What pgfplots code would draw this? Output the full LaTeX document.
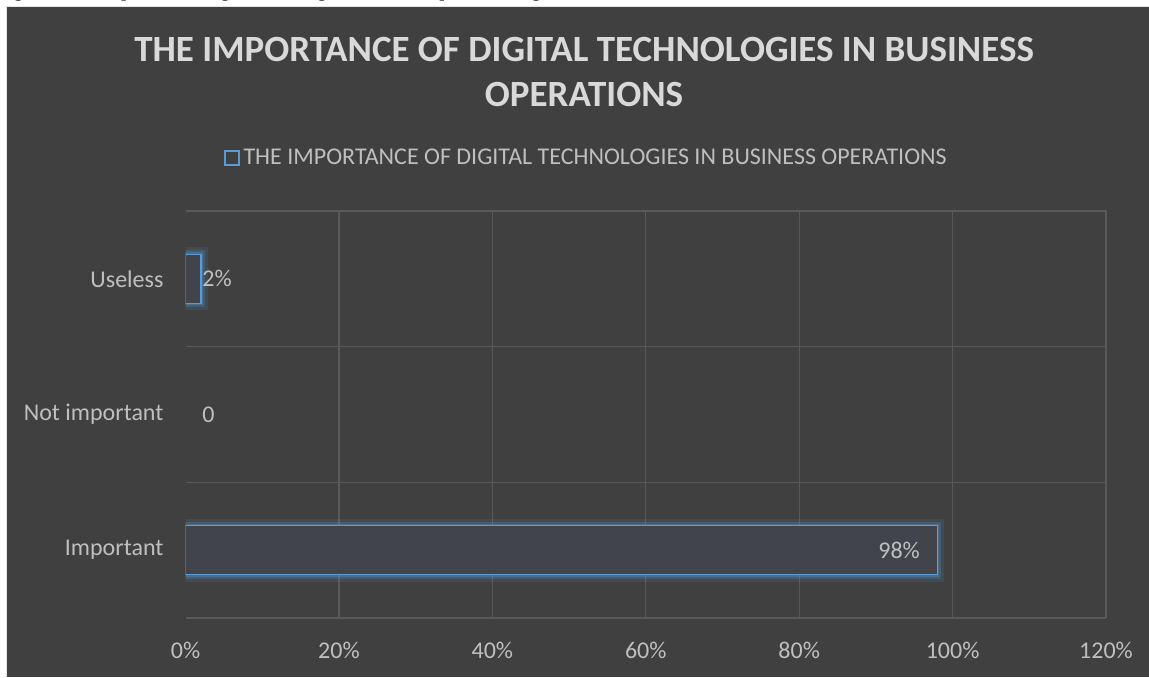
\documentclass[border=0pt]{standalone}
\usepackage{pgfplots}
\pgfplotsset{compat=1.18}
\usepackage{fontspec}
\setmainfont{Carlito}
\newfontfamily\capfont{Liberation Serif}
\definecolor{bg}{HTML}{404040}
\definecolor{gridc}{HTML}{595959}
\definecolor{lbl}{HTML}{BFBFBF}
\definecolor{ttl}{HTML}{D9D9D9}
\definecolor{barblue}{HTML}{5B9BD5}
\definecolor{barfill}{HTML}{41454B}
\newcommand\lblfont{\fontsize{12}{14.4}\selectfont}

\begin{document}
\begin{tikzpicture}
% page, 1 px = 0.5pt
\begin{scope}[x=0.5pt,y=-0.5pt]
  \fill[white] (0,0) rectangle (1149,677);
  \begin{scope}
    \clip (0,0) rectangle (1149,6);
    \node[anchor=base west, inner sep=0pt, text=black,
      font=\capfont\bfseries\fontsize{8.4}{10}\selectfont] at (-1,-2.5)
      {Figure 4: The importance of digital technologies in business operations, Nigeria};
  \end{scope}
  \fill[bg] (6,6) rectangle (1149,677);
  \draw[ttl!70!white, line width=0.6pt] (6.5,677) -- (6.5,6.5) -- (1149,6.5);
  \coordinate (org) at (185.5,618);
\end{scope}

\begin{axis}[
    at={(org)}, anchor=south west,
    scale only axis, width=460.25pt, height=203.5pt,
    xmin=0, xmax=120, ymin=-0.5, ymax=2.5,
    axis line style={draw=none},
    xtick={0,20,...,120},
    xticklabel={\pgfmathprintnumber{\tick}\%},
    minor xtick={20,40,...,120},
    ytick={0,1,2},
    yticklabels={Important,Not important,Useless},
    minor ytick={-0.5,0.5,1.5,2.5},
    xmajorgrids=false, xminorgrids=true, ymajorgrids=false, yminorgrids=true,
    minor grid style={gridc, line width=0.6pt},
    major tick length=0pt, minor tick length=0pt,
    tick label style={font=\lblfont, text=lbl},
    /pgf/number format/assume math mode=true,
    xticklabel style={yshift=-8.5pt},
    yticklabel style={xshift=-7.5pt},
    title={THE IMPORTANCE OF DIGITAL TECHNOLOGIES IN BUSINESS\\OPERATIONS},
    title style={at={(0.433,1.312)}, anchor=center, align=center,
      text=ttl, font=\bfseries\fontsize{18.5}{22.5}\selectfont},
    legend style={at={(0.4366,1.13)}, anchor=center, draw=none, fill=none,
      text=lbl, font=\lblfont, inner sep=0pt},
  ]
  % glow behind the bars
  \addplot[forget plot, xbar, bar width=24.5pt, bar shift=0pt,
    draw=barblue, draw opacity=0.12, line width=7pt, fill=none]
    coordinates {(98,0) (2,2)};
  \addplot[forget plot, xbar, bar width=24.5pt, bar shift=0pt,
    draw=barblue, draw opacity=0.2, line width=4pt, fill=none]
    coordinates {(98,0) (2,2)};
  \addplot[forget plot, xbar, bar width=24.5pt, bar shift=0pt,
    draw=barblue, draw opacity=0.3, line width=2pt, fill=none]
    coordinates {(98,0) (2,2)};
  \addplot[xbar, bar width=24.5pt, bar shift=0pt,
    draw=barblue, line width=0.75pt, fill=barfill,
    legend image code/.code={
      \draw[draw=barblue, fill=bg, line width=0.75pt] (0pt,-3.5pt) rectangle (7pt,3.5pt);}]
    coordinates {(98,0) (2,2)};
  \addlegendentry{THE IMPORTANCE OF DIGITAL TECHNOLOGIES IN BUSINESS OPERATIONS}

  % data labels
  \addplot[forget plot, draw=none, mark=none, nodes near coords,
    point meta=explicit symbolic,
    every node near coord/.append style={anchor=west, font=\lblfont,
      text=lbl, inner sep=0pt, xshift=0.6pt}]
    coordinates {(2,2) [2\%]};
  \addplot[forget plot, draw=none, mark=none, nodes near coords,
    point meta=explicit symbolic,
    every node near coord/.append style={anchor=west, font=\lblfont,
      text=lbl, inner sep=0pt, xshift=8.25pt}]
    coordinates {(0,1) [0]};
  \addplot[forget plot, draw=none, mark=none, nodes near coords,
    point meta=explicit symbolic,
    every node near coord/.append style={anchor=east, font=\lblfont,
      text=lbl, inner sep=0pt, xshift=-8.5pt}]
    coordinates {(98,0) [98\%]};
\end{axis}

\pgfresetboundingbox
\path[use as bounding box] (0,0) rectangle (574.5pt,-338.5pt);
\end{tikzpicture}
\end{document}
